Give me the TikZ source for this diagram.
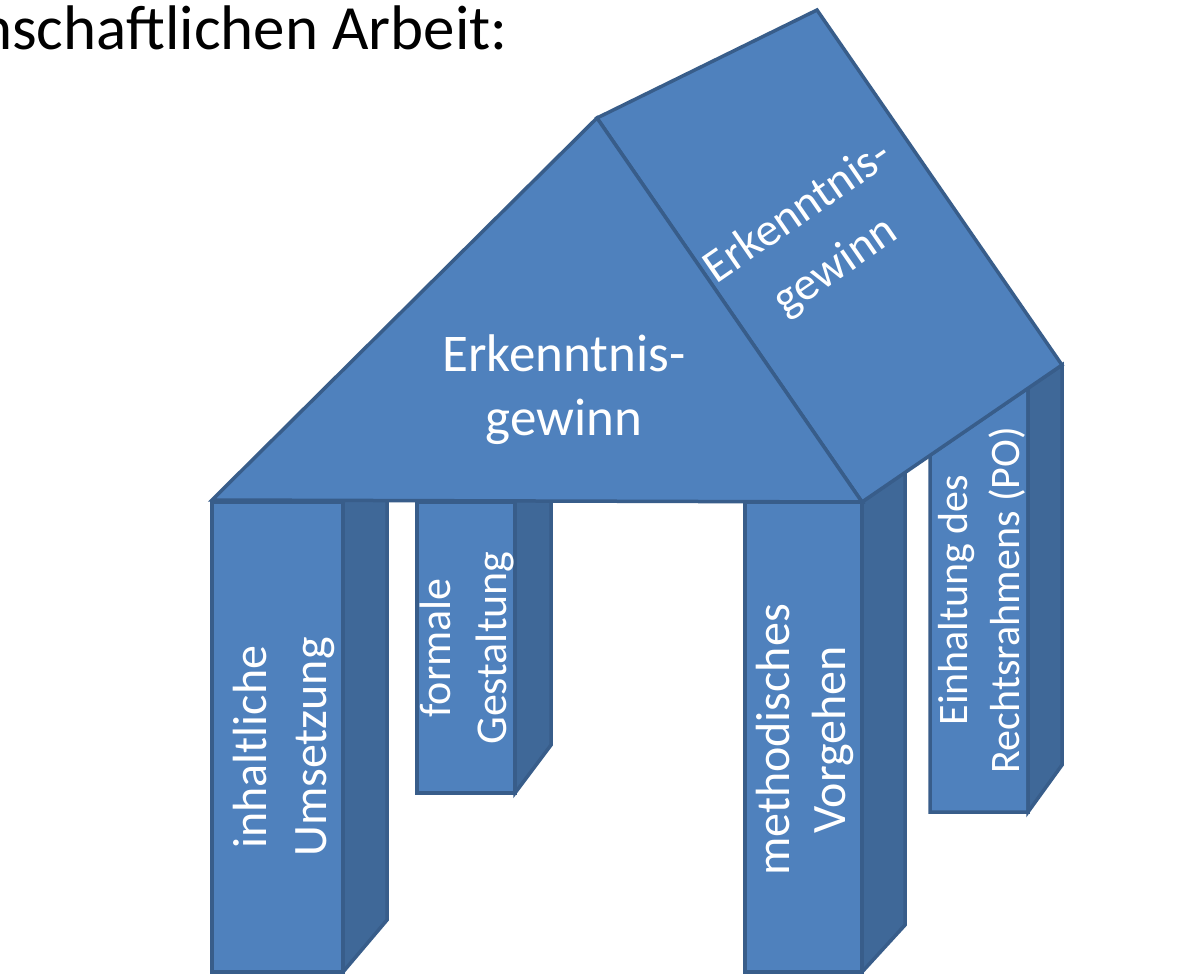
\documentclass[tikz,border=0pt]{standalone}
\usepackage{fontspec}
\setmainfont{Carlito}
\definecolor{fillb}{HTML}{4F81BD}
\definecolor{sideb}{HTML}{3F6898}
\definecolor{lineb}{HTML}{385D8A}
\begin{document}
\begin{tikzpicture}[x=1pt,y=-1pt,
  face/.style={fill=fillb, draw=lineb, line width=3.5pt, line join=miter},
  sideface/.style={fill=sideb, draw=lineb, line width=3.5pt, line join=miter},
  ptext/.style={text=white, rotate=90, align=center, inner sep=0pt},
  rtext/.style={text=white, align=center, inner sep=0pt},
]
\useasboundingbox (0,0) rectangle (1200,974);
\clip (0,0) rectangle (1200,974);
\fill[white] (0,0) rectangle (1200,974);
% title
\node[anchor=base east, inner sep=0pt, font=\fontsize{63}{76}\selectfont] (title) at (508,50) {nschaftlichen Arbeit:};
% pillar 1
\draw[sideface] (343,502) -- (387,448) -- (387,920) -- (343,972) -- cycle;
\draw[face] (212,502) rectangle (343,972);
% pillar 2
\draw[sideface] (515,502) -- (551,454) -- (551,745) -- (515,793) -- cycle;
\draw[face] (417,502) rectangle (515,793);
% pillar 3
\draw[sideface] (862,502) -- (905,472) -- (905,925) -- (862,972) -- cycle;
\draw[face] (745,502) rectangle (862,972);
% pillar 4
\draw[face] (930,455) -- (1028,388) -- (1028,812) -- (930,812) -- cycle;
\draw[sideface] (1028,388) -- (1062,365) -- (1062,765) -- (1028,812) -- cycle;
% roof
\draw[face] (597,118) -- (817,10) -- (1062,365) -- (862,502) -- cycle;
\draw[face] (597,118) -- (212,500) -- (862,502) -- cycle;
% texts
\node[rtext, font=\fontsize{53}{64}\selectfont] (r1) at (564,390) {Erkenntnis-\\gewinn};
\node[rtext, rotate=34.6, font=\fontsize{47}{66}\selectfont] (r2) at (817,240) {Erkenntnis-\\gewinn};
\node[ptext, font=\fontsize{48}{60}\selectfont] (t1) at (284,747) {inhaltliche\\Umsetzung};
\node[ptext, font=\fontsize{44}{56}\selectfont] (t2) at (467,648) {formale\\Gestaltung};
\node[ptext, font=\fontsize{48}{56}\selectfont] (t3) at (805,740) {methodisches\\Vorgehen};
\node[ptext, font=\fontsize{42}{52}\selectfont] (t4) at (982,600) {Einhaltung des\\Rechtsrahmens (PO)};
\end{tikzpicture}
\end{document}
